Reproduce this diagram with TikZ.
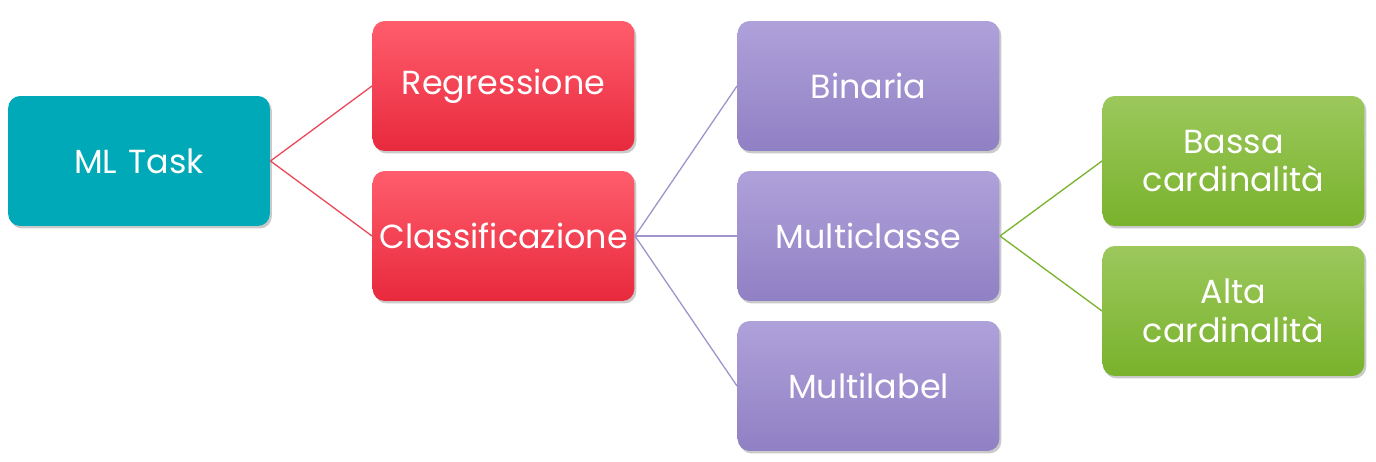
\documentclass[tikz,border=0pt]{standalone}
\usepackage{fontspec}
\setmainfont{Poppins}
\usepackage{tikz}
\usepackage{xcolor}
\usetikzlibrary{positioning, shadows}
\definecolor{tealbox}{HTML}{00A9B7}
\definecolor{redtop}{HTML}{FF5D6C}
\definecolor{redbot}{HTML}{E8293D}
\definecolor{purtop}{HTML}{AFA1DA}
\definecolor{purbot}{HTML}{9080C4}
\definecolor{grntop}{HTML}{9CC85C}
\definecolor{grnbot}{HTML}{79B22C}
\tikzset{box/.style={rounded corners=0.24cm, minimum width=5.22cm, minimum height=2.6cm,
    text width=5cm, align=center, text=white, font=\fontsize{19}{22}\selectfont,
    drop shadow={shadow xshift=0.04cm, shadow yshift=-0.05cm, opacity=0.35, fill=black!60}}}
\tikzset{every picture/.style={line width=0.75pt}}

\begin{document}
\begin{tikzpicture}[x=0.02cm,y=-0.02cm]
  \useasboundingbox (0,0) rectangle (1376,462);

  \node [box, fill=tealbox] (ml) at (139,161) {ML Task};

  \node [box, top color=redtop, bottom color=redbot] (regr) at (503.5,86) {Regressione};
  \node [box, top color=redtop, bottom color=redbot] (clas) at (503.5,236) {Classificazione};

  \node [box, top color=purtop, bottom color=purbot] (bin) at (868.5,86) {Binaria};
  \node [box, top color=purtop, bottom color=purbot] (multc) at (868.5,236) {Multiclasse};
  \node [box, top color=purtop, bottom color=purbot] (multl) at (868.5,386) {Multilabel};

  \node [box, top color=grntop, bottom color=grnbot] (bassa) at (1233.5,161) {Bassa\\cardinalità};
  \node [box, top color=grntop, bottom color=grnbot] (alta) at (1233.5,311) {Alta\\cardinalità};

  \draw [redbot!85] (ml.east) -- (regr.west);
  \draw [redbot!85] (ml.east) -- (clas.west);
  \draw [purbot!85] (clas.east) -- (bin.west);
  \draw [purbot!85] (clas.east) -- (multc.west);
  \draw [purbot!85] (clas.east) -- (multl.west);
  \draw [grnbot] (multc.east) -- (bassa.west);
  \draw [grnbot] (multc.east) -- (alta.west);
\end{tikzpicture}
\end{document}
